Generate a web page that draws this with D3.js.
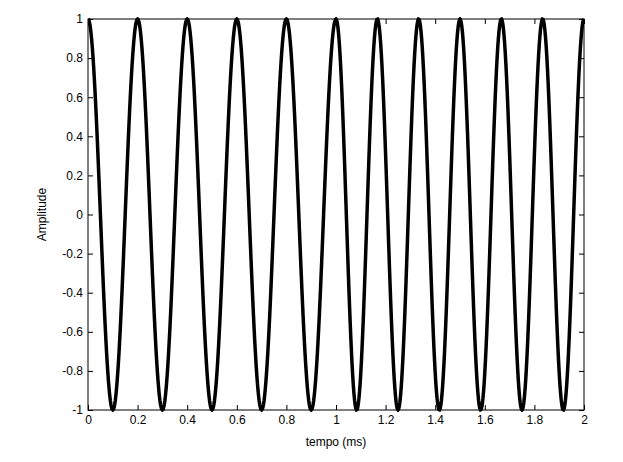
<!DOCTYPE html>
<html>
<head>
<meta charset="utf-8">
<script src="https://cdn.jsdelivr.net/npm/d3@7"></script>
<style>
  body { margin: 0; background: #fff; }
  text { font-family: "Liberation Sans", Arial, sans-serif; font-size: 12px; fill: #000; }
</style>
</head>
<body>
<svg id="chart" width="623" height="462"></svg>
<script>
// tone segments: start/end in ms, frequency in kHz
const segStart = [0, 1]
const segEnd = [1, 2]
const segFreq = [5, 6]
const xTicks = [0, 0.2, 0.4, 0.6, 0.8, 1, 1.2, 1.4, 1.6, 1.8, 2]
const yTicks = [-1, -0.8, -0.6, -0.4, -0.2, 0, 0.2, 0.4, 0.6, 0.8, 1]

const svg = d3.select('#chart')
const mLeft = 88, mRight = 584, mTop = 19, mBottom = 410

const x = d3.scaleLinear().domain([0, 2]).range([mLeft, mRight])
const y = d3.scaleLinear().domain([-1, 1]).range([mBottom, mTop])

// sample each segment
const pts = []
segStart.forEach((t0, i) => {
  const n = 400
  for (let k = 0; k <= n; k++) {
    const t = t0 + (segEnd[i] - t0) * k / n
    pts.push([t, Math.cos(2 * Math.PI * segFreq[i] * (t - t0))])
  }
})

svg.append('defs').append('clipPath').attr('id', 'clip')
  .append('rect').attr('x', mLeft).attr('y', mTop - 2).attr('width', mRight - mLeft).attr('height', mBottom - mTop + 4)

svg.append('path')
  .datum(pts)
  .attr('clip-path', 'url(#clip)')
  .attr('fill', 'none')
  .attr('stroke', '#000')
  .attr('stroke-width', 3.5)
  .attr('d', d3.line().x(d => x(d[0])).y(d => y(d[1])))

const fmt = d => String(d)

svg.append('g').attr('transform', `translate(0,${mBottom})`)
  .call(d3.axisBottom(x).tickValues(xTicks).tickFormat(fmt).tickSizeInner(-5).tickSizeOuter(0).tickPadding(5))
svg.append('g').attr('transform', `translate(0,${mTop})`)
  .call(d3.axisTop(x).tickValues(xTicks).tickFormat('').tickSizeInner(-5).tickSizeOuter(0))
svg.append('g').attr('transform', `translate(${mLeft},0)`)
  .call(d3.axisLeft(y).tickValues(yTicks).tickFormat(fmt).tickSizeInner(-5).tickSizeOuter(0).tickPadding(5))
svg.append('g').attr('transform', `translate(${mRight},0)`)
  .call(d3.axisRight(y).tickValues(yTicks).tickFormat('').tickSizeInner(-5).tickSizeOuter(0))

svg.selectAll('.domain').remove()
svg.selectAll('.tick line').attr('stroke', '#000')
svg.selectAll('.tick text').style('font-size', '12px').attr('fill', '#000')

svg.append('rect').attr('x', mLeft).attr('y', mTop)
  .attr('width', mRight - mLeft).attr('height', mBottom - mTop)
  .attr('fill', 'none').attr('stroke', '#000').attr('stroke-width', 1)

svg.append('text').attr('x', (mLeft + mRight) / 2).attr('y', 446)
  .attr('text-anchor', 'middle').text('tempo (ms)')
svg.append('text').attr('transform', `translate(46,${(mTop + mBottom) / 2}) rotate(-90)`)
  .attr('text-anchor', 'middle').text('Amplitude')
</script>
</body>
</html>
